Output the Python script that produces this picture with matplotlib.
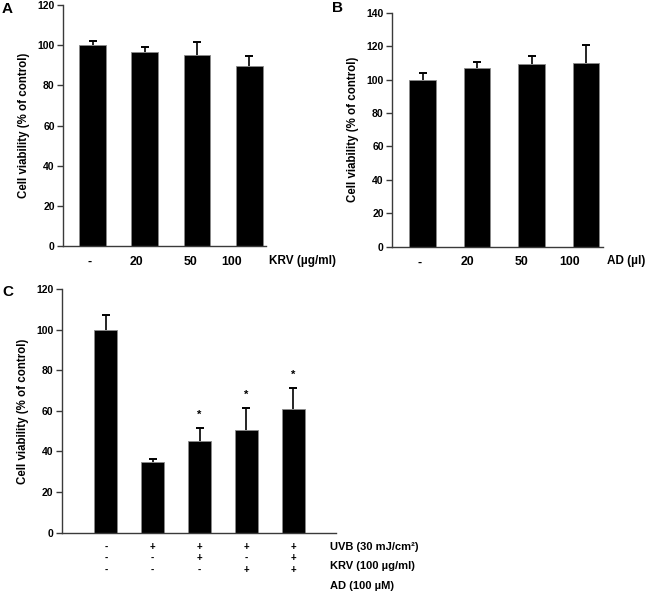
import matplotlib
matplotlib.use("Agg")
import matplotlib.pyplot as plt

# ---------------- data ----------------
a_labels = ['-', '20', '50', '100']
a_means = [100.0, 96.6, 95.1, 89.6]
a_err = [2.3, 2.5, 6.6, 5.0]
a_unit = 'KRV (µg/ml)'

b_labels = ['-', '20', '50', '100']
b_means = [100.0, 106.8, 109.5, 110.1]
b_err = [4.1, 3.5, 4.8, 10.6]
b_unit = 'AD (µl)'

c_means = [100.0, 35.0, 45.3, 50.7, 61.1]
c_err = [7.4, 1.4, 6.4, 10.8, 10.3]
c_sig = [False, False, True, True, True]
c_uvb = ['-', '+', '+', '+', '+']
c_krv = ['-', '-', '+', '-', '+']
c_ad = ['-', '-', '-', '+', '+']
c_rows = ['UVB (30 mJ/cm²)', 'KRV (100 µg/ml)', 'AD (100 µM)']

ylabel = 'Cell viability (% of control)'

# ---------------- style ----------------
plt.rcParams['font.family'] = ['Liberation Sans', 'DejaVu Sans']
plt.rcParams['font.weight'] = 'bold'
W, H = 652, 591
fig = plt.figure(figsize=(W / 100, H / 100), dpi=100)

def px_axes(l, t, r, b):
    return fig.add_axes([l / W, 1 - b / H, (r - l) / W, (b - t) / H])

spine_col = '#3a3a3a'

def style(ax, ymax, step, xlim, width, means, errs):
    x = list(range(len(means)))
    ax.bar(x, means, width=width, color='black', edgecolor='#8a8a8a', linewidth=0.6, zorder=2)
    eb = ax.errorbar(x, means, yerr=[[0] * len(errs), errs], fmt='none', ecolor='black',
                     elinewidth=1.2, capsize=3, capthick=1.4, zorder=3)
    caps = eb[1]
    if len(caps) == 2:
        caps[0].set_visible(False)
    ax.set_xlim(*xlim)
    ax.set_ylim(0, ymax)
    ax.set_yticks(range(0, ymax + 1, step))
    for s in ['top', 'right']:
        ax.spines[s].set_visible(False)
    for s in ['left', 'bottom']:
        ax.spines[s].set_color(spine_col)
        ax.spines[s].set_linewidth(1.0)
    ax.tick_params(axis='y', direction='out', length=4, width=1, color=spine_col,
                   labelsize=7.5, pad=2)
    ax.tick_params(axis='x', length=0, labelsize=8.8, pad=7)
    for t in ax.get_yticklabels():
        t.set_fontweight('bold')
    ax.set_ylabel(ylabel, fontsize=8.3, fontweight='bold', labelpad=5)
    return x

# Panel A
axA = px_axes(63, 5, 266, 246)
xA = style(axA, 120, 20, (-0.565, 3.32), 0.51, a_means, a_err)
a_shift = [-0.05, -0.15, -0.13, -0.34]
axA.set_xticks([i + s for i, s in zip(xA, a_shift)])
axA.set_xticklabels(a_labels, fontweight='bold')
fig.text(269 / W, 1 - 261 / H, a_unit, fontsize=8.5, fontweight='bold', va='center', ha='left')
fig.text(2 / W, 1 - 9 / H, 'A', fontsize=11, fontweight='bold', va='center', ha='left')

# Panel B
axB = px_axes(392, 12.7, 603, 246.7)
xB = style(axB, 140, 20, (-0.56, 3.31), 0.48, b_means, b_err)
b_shift = [-0.05, -0.17, -0.18, -0.30]
axB.set_xticks([i + s for i, s in zip(xB, b_shift)])
axB.set_xticklabels(b_labels, fontweight='bold')
fig.text(607 / W, 1 - 261 / H, b_unit, fontsize=8.5, fontweight='bold', va='center', ha='left')
fig.text(332 / W, 1 - 8 / H, 'B', fontsize=11, fontweight='bold', va='center', ha='left')

# Panel C
axC = px_axes(61.7, 289, 336, 532.7)
xC = style(axC, 120, 20, (-0.94, 4.91), 0.50, c_means, c_err)
axC.set_xticks([])
for i, (m, e, s) in enumerate(zip(c_means, c_err, c_sig)):
    if s:
        axC.text(i, m + e + 6.5, '*', ha='center', va='center', fontsize=8, fontweight='bold')
row_px = [546.7, 558.3, 570.0]
for row, py in zip([c_uvb, c_krv, c_ad], row_px):
    for i, sym in enumerate(row):
        xf = axC.transData.transform((i, 0))[0] / fig.dpi / fig.get_figwidth()
        fig.text(xf, 1 - py / H, sym, fontsize=7, fontweight='bold', ha='center', va='center')
for lab, py in zip(c_rows, [546.7, 566.0, 586.0]):
    fig.text(330 / W, 1 - py / H, lab, fontsize=8, fontweight='bold', ha='left', va='center')
fig.text(2 / W, 1 - 292 / H, 'C', fontsize=11, fontweight='bold', va='center', ha='left')

fig.savefig('out.png', dpi=100)
